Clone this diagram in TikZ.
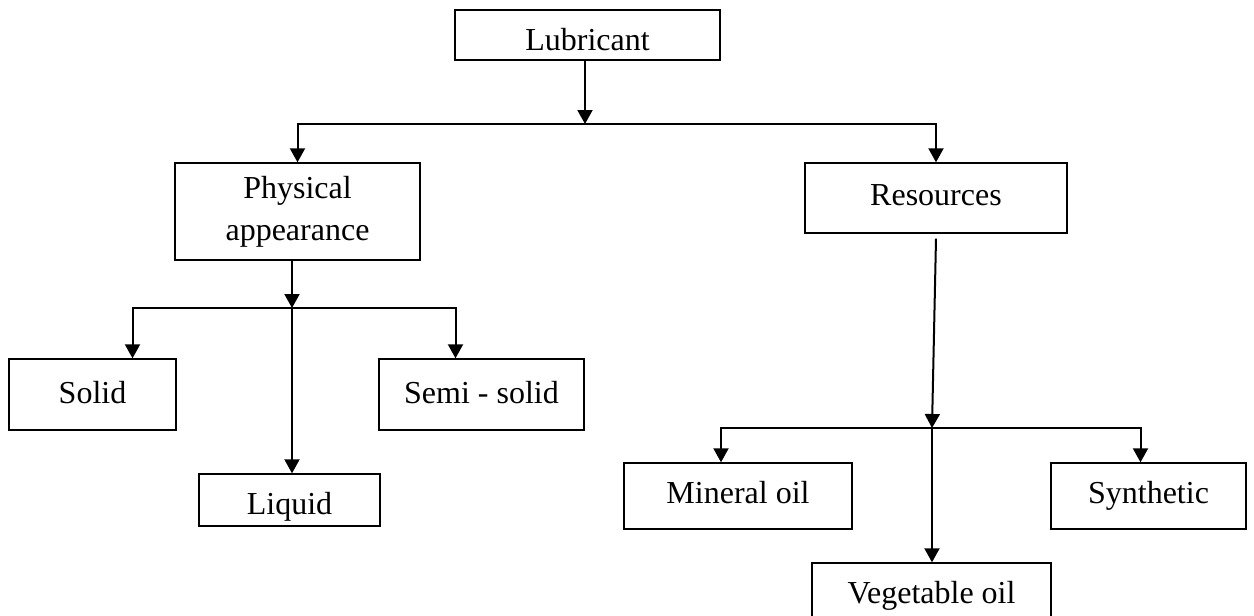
\documentclass[tikz,border=0pt]{standalone}
\usepackage{fontspec}
\setmainfont{Liberation Serif}
\usepackage{tikz}
\usetikzlibrary{arrows.meta, calc}

\begin{document}
\begin{tikzpicture}[x=1pt, y=-1pt,
	block/.style={draw, line width=1.4pt, inner sep=0pt, align=center, font=\fontsize{32}{42}\selectfont},
	box/.style={block, text height=22pt, text depth=8pt},
	arr/.style={-{Triangle[length=14pt, width=15pt]}, line width=2pt}]
	\useasboundingbox (0,0) rectangle (1254,616);
	\clip (0,0) rectangle (1254,616);
	\node[box, minimum width=265pt, minimum height=50pt, text height=38pt] (lubricant) at (587.5,35) {Lubricant};
	\node[block, minimum width=245pt, minimum height=97pt] (physical) at (297.5,211.5) {Physical\\appearance};
	\node[box, minimum width=262pt, minimum height=70pt] (resources) at (936,198) {Resources};
	\node[box, minimum width=167pt, minimum height=71pt, text height=25pt] (solid) at (92.5,394.5) {Solid};
	\node[box, minimum width=205pt, minimum height=71pt, text height=25pt] (semisolid) at (481.5,394.5) {Semi - solid};
	\node[box, minimum width=181pt, minimum height=52pt, text height=36pt] (liquid) at (289.5,500) {Liquid};
	\node[box, minimum width=228pt, minimum height=66pt] (mineral) at (738,496) {Mineral oil};
	\node[box, minimum width=195pt, minimum height=66pt] (synthetic) at (1148.5,496) {Synthetic};
	\node[box, minimum width=239pt, minimum height=66pt] (vegetable) at (931.5,596) {Vegetable oil};
	\coordinate (top) at (585,124);
	\coordinate (physsplit) at (292,308);
	\coordinate (ressplit) at (932,428);
	\draw[arr] (lubricant.south -| top) -- (top);
	\draw[arr] (top) -| (physical.north);
	\draw[arr] (top) -| (resources.north);
	\draw[arr] (physical.south -| physsplit) -- (physsplit);
	\draw[arr] (physsplit) -| ([xshift=40pt]solid.north);
	\draw[arr] (physsplit) -| ([xshift=-26pt]semisolid.north);
	\draw[arr] (physsplit) -- (physsplit |- liquid.north);
	\draw[arr] ([yshift=-5pt]resources.south) -- (ressplit);
	\draw[arr] (ressplit) -| ([xshift=-17pt]mineral.north);
	\draw[arr] (ressplit) -| ([xshift=-8pt]synthetic.north);
	\draw[arr] (ressplit) -- (ressplit |- vegetable.north);
\end{tikzpicture}
\end{document}
